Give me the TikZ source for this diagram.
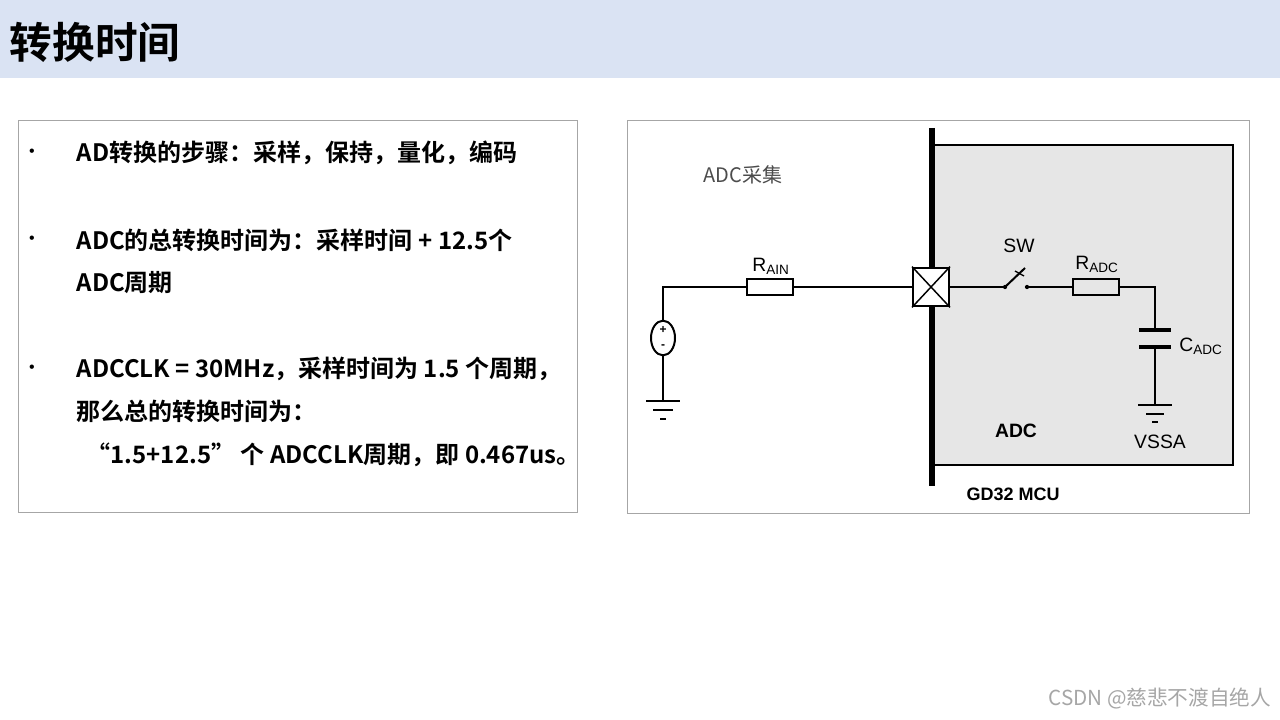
\documentclass[tikz,border=0pt]{standalone}
\usepackage{fontspec}
\usetikzlibrary{shapes.geometric}
\setmainfont{Liberation Sans}
\newfontfamily\cjk{Noto Sans CJK SC}
\newfontfamily\cjkb{Noto Sans CJK SC Bold}
\begin{document}
\begin{tikzpicture}[x=0.75pt,y=-0.75pt,
  wire/.style={line width=1.5pt},
  res/.style={draw,line width=1.5pt,minimum width=35pt,minimum height=12pt,inner sep=0pt},
  bl/.style={anchor=west,font=\cjkb\fontsize{18}{22}\selectfont},
  lab/.style={font=\fontsize{14.5}{16}\selectfont}]
\useasboundingbox (0,0) rectangle (1280,720);
\fill[fill={rgb,255:red,218;green,227;blue,243}] (0,0) rectangle (1280,78);
\node[anchor=west,font=\cjkb\fontsize{32}{36}\selectfont] (title) at (5,42) {转换时间};
% left box
\draw[gray!70] (18,120) rectangle (577,512);
\foreach \y in {153,240,369} \node[font=\large] at (32,\y) {\textbullet};
\node[bl] (t1) at (72,153) {AD转换的步骤：采样，保持，量化，编码};
\node[bl] (t2) at (72,240) {ADC的总转换时间为：采样时间 + 12.5个};
\node[bl] (t3) at (72,283) {ADC周期};
\node[bl] (t4) at (72,369) {ADCCLK = 30MHz，采样时间为 1.5 个周期，};
\node[bl] (t5) at (72,411) {那么总的转换时间为：};
\node[bl] (t6) at (82,455) {“1.5+12.5” 个 ADCCLK周期，即 0.467us。};
% right box
\draw[gray!70] (627,120) rectangle (1249,513);
\draw[line width=1.1pt,fill={rgb,255:red,230;green,230;blue,230}] (932,145) rectangle (1233,465);
\draw[line width=4.5pt] (932,128) -- (932,486);
\node[font=\cjk\fontsize{15}{16}\selectfont,text=black!70] (adccj) at (743,175) {ADC采集};
% pin
\node[draw,fill=white,line width=1.5pt,minimum width=27pt,minimum height=29pt,inner sep=0pt] (pin) at (931,287) {};
\draw[line width=1.1pt] (pin.north west) -- (pin.south east) (pin.north east) -- (pin.south west);
% source
\node[draw,ellipse,line width=1.5pt,minimum width=18pt,minimum height=26pt,inner sep=0pt,fill=white] (src) at (663,338) {};
\node[font=\bfseries\fontsize{9}{9}\selectfont] at (663,330) {+};
\node[font=\bfseries\fontsize{9}{9}\selectfont] at (663,347) {-};
\node[res] (rain) at (770,287) {};
\node[lab] (lrain) at (771,266) {R\textsubscript{AIN}};
\coordinate (c1) at (663,287);
\draw[wire] (src.north) -- (c1) -- (rain.west);
\draw[wire] (rain.east) -- (pin.west);
% ground left
\coordinate (g1) at (663,401);
\draw[wire] (src.south) -- (g1);
\draw[wire] (646,401) -- (680,401) (653,410) -- (673,410) (660,419) -- (666,419);
% switch
\coordinate (s1) at (1005,287); \coordinate (s2) at (1027,287);
\draw[wire] (pin.east) -- (s1);
\fill (s1) circle (1.6pt) (s2) circle (1.6pt);
\draw[wire] (s1) -- (1025,268);
\draw[line width=1pt] (1015,271) -- (1024,276);
\node[lab] (lsw) at (1019,246) {SW};
\node[res] (radc) at (1096,287) {};
\node[lab] (lradc) at (1097,264) {R\textsubscript{ADC}};
\draw[wire] (s2) -- (radc.west);
\coordinate (c2) at (1155,287);
\coordinate (p1) at (1155,330); \coordinate (p2) at (1155,347);
\draw[wire] (radc.east) -- (c2) -- (p1);
\draw[line width=3.5pt] (1139,330) -- (1171,330) (1139,347) -- (1171,347);
\coordinate (g2) at (1155,405);
\draw[wire] (p2) -- (g2);
\draw[wire] (1138,405) -- (1172,405) (1146,414) -- (1164,414) (1152,422) -- (1158,422);
\node[lab] (lcadc) at (1201,346) {C\textsubscript{ADC}};
\node[lab] (vssa) at (1160,442) {VSSA};
\node[font=\bfseries\fontsize{14.5}{16}\selectfont] (ladc) at (1016,431) {ADC};
\node[font=\bfseries\fontsize{13.5}{16}\selectfont] (gd) at (1013,494) {GD32 MCU};
\node[anchor=east,font=\cjk\fontsize{15.5}{18}\selectfont,text=black!35] (wm) at (1276,698) {CSDN @慈悲不渡自绝人};
\end{tikzpicture}
\end{document}
